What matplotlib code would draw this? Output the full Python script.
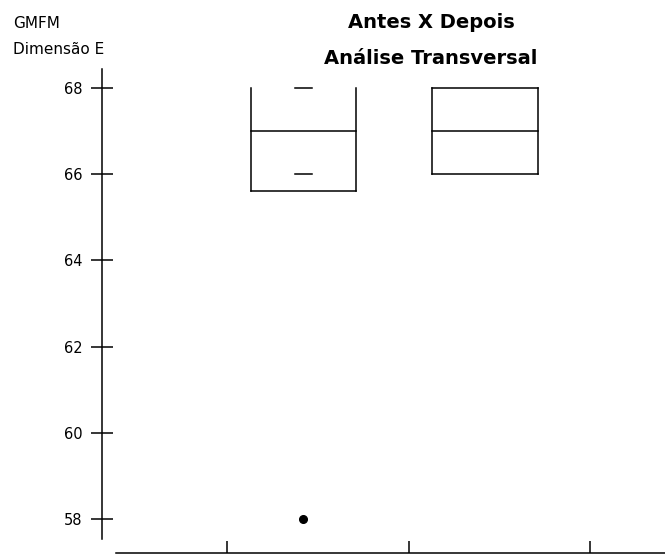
import matplotlib.pyplot as plt

# boxplot data, GMFM dimension E
groups = [1, 2]
q1 = [65.6, 66.0]
median = [67.0, 67.0]
q3 = [68.0, 68.0]
top_open = [True, False]
inner_marks = [[68.0, 66.0], []]
outliers_x = [1]
outliers_y = [58.0]
yticks = [58, 60, 62, 64, 66, 68]
xticks = [0.58, 1.58, 2.58]

fig = plt.figure(figsize=(6.65, 5.57), dpi=100)
ax = fig.add_axes([102 / 665, 1 / 557, 563 / 665, 487 / 557])
ax.set_xlim(-0.108, 2.99)
ax.set_ylim(57.14, 68.44)

lw = 1.1
half = 0.29
for g, lo, med, hi, op, marks in zip(groups, q1, median, q3, top_open, inner_marks):
    ax.plot([g - half, g - half], [lo, hi], color='black', lw=lw)
    ax.plot([g + half, g + half], [lo, hi], color='black', lw=lw)
    ax.plot([g - half, g + half], [lo, lo], color='black', lw=lw)
    ax.plot([g - half, g + half], [med, med], color='black', lw=lw)
    if not op:
        ax.plot([g - half, g + half], [hi, hi], color='black', lw=lw)
    for m in marks:
        ax.plot([g - 0.045, g + 0.045], [m, m], color='black', lw=lw)

ax.plot(outliers_x, outliers_y, 'o', color='black', markersize=5.5)

ax.spines['top'].set_visible(False)
ax.spines['right'].set_visible(False)
ax.spines['left'].set_bounds(57.53, 68.44)
ax.spines['bottom'].set_position(('data', 57.2))
ax.spines['bottom'].set_bounds(-0.03, 2.99)
for s in ['left', 'bottom']:
    ax.spines[s].set_linewidth(lw)

ax.set_yticks(yticks)
ax.set_yticklabels([str(t) for t in yticks])
ax.tick_params(axis='y', direction='inout', length=16.5, width=lw, pad=6, labelsize=10.5)
ax.set_xticks(xticks)
ax.set_xticklabels([])
ax.tick_params(axis='x', direction='in', length=8.5, width=lw)

fig.text(13 / 665, 1 - 24 / 557, 'GMFM', fontsize=11, va='center', ha='left')
fig.text(13 / 665, 1 - 49 / 557, 'Dimensão E', fontsize=11, va='center', ha='left')
fig.text(431 / 665, 1 - 22 / 557, 'Antes X Depois', fontsize=14, fontweight='bold',
         va='center', ha='center')
fig.text(431 / 665, 1 - 59 / 557, 'Análise Transversal', fontsize=14, fontweight='bold',
         va='center', ha='center')

fig.savefig('out.png', dpi=100)
